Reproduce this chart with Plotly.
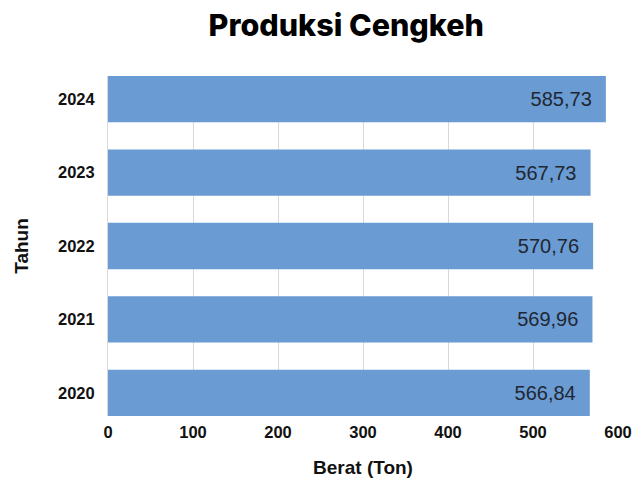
import plotly.graph_objects as go

years = ["2020", "2021", "2022", "2023", "2024"]
values = [566.84, 569.96, 570.76, 567.73, 585.73]
x_ticks = [0, 100, 200, 300, 400, 500, 600]

fig = go.Figure(go.Bar(
    y=years,
    x=values,
    orientation="h",
    marker=dict(color="#6a9bd2", line=dict(width=0)),
    texttemplate="%{x:.2f}&nbsp;&nbsp;",
    textposition="inside",
    insidetextanchor="end",
    textfont=dict(family="Liberation Sans, Arial, sans-serif", size=20, color="#1f2733"),
    hoverinfo="skip",
))

fig.update_layout(
    width=633, height=479,
    separators=",.",
    paper_bgcolor="white", plot_bgcolor="white",
    margin=dict(l=108, r=15, t=76, b=63, autoexpand=False),
    bargap=0.37,
    showlegend=False,
    title=dict(
        text="Produksi Cengkeh",
        x=0.547, xanchor="center", y=0.948, yanchor="middle",
        automargin=False,
        font=dict(family="Inter, Poppins, sans-serif", size=30.5, color="#000000", weight=800),
    ),
    xaxis=dict(
        range=[0, 600],
        tickvals=x_ticks,
        automargin=False,
        showgrid=True, gridcolor="#d9d9d9", gridwidth=1,
        zeroline=False, showline=False,
        tickfont=dict(family="Liberation Sans, Arial, sans-serif", size=16.5, color="#111111", weight="bold"),
        ticklabelstandoff=4,
        title=dict(text="Berat (Ton)", standoff=21,
                   font=dict(family="Liberation Sans, Arial, sans-serif", size=19, color="#111111", weight="bold")),
        fixedrange=True,
    ),
    yaxis=dict(
        range=[-0.315, 4.315],
        automargin=False,
        showgrid=False, zeroline=False,
        showline=True, linecolor="#d9d9d9", linewidth=1,
        tickfont=dict(family="Liberation Sans, Arial, sans-serif", size=16.5, color="#111111", weight="bold"),
        ticklabelstandoff=9,
        title=dict(text="Tahun", standoff=24,
                   font=dict(family="Liberation Sans, Arial, sans-serif", size=19, color="#111111", weight="bold")),
        fixedrange=True,
    ),
)

fig.write_html(
    "out.html",
    config={"displayModeBar": False},
    post_script="document.body.style.margin='0';document.body.style.padding='0';",
)
